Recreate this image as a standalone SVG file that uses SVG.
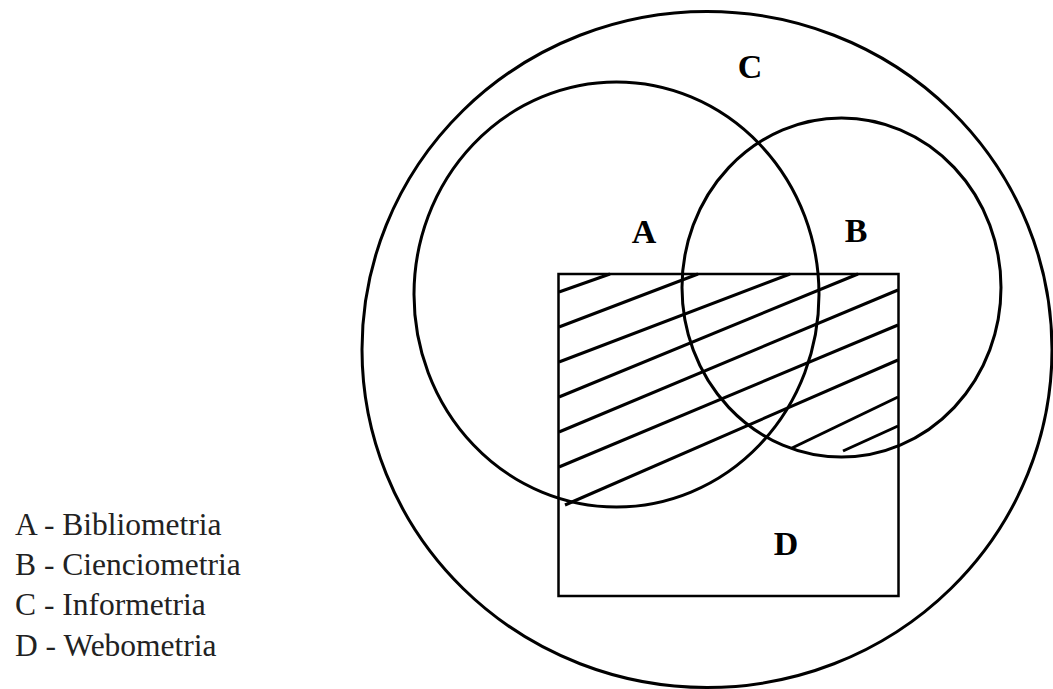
<svg xmlns="http://www.w3.org/2000/svg" width="1053" height="689" viewBox="0 0 1053 689">
<style>
.ring{fill:none;stroke:#000;stroke-width:3}
.box{fill:none;stroke:#000;stroke-width:2.5}
.hatch line{stroke:#000;stroke-width:3;stroke-linecap:butt}
.lbl{font-family:"Liberation Serif","Times New Roman",serif;font-weight:bold;font-size:34px;text-anchor:middle;fill:#000}
.leg{font-family:"Liberation Serif","Times New Roman",serif;font-size:31.5px;fill:#222}
</style>
<rect width="1053" height="689" fill="#fff"/>
<g id="C">
<ellipse class="ring" cx="707" cy="349.5" rx="345" ry="338"/>
<text class="lbl" x="750" y="78">C</text>
</g>
<g id="A">
<ellipse class="ring" cx="616.5" cy="294.5" rx="202.5" ry="212.5"/>
<text class="lbl" x="644" y="243">A</text>
</g>
<g id="B">
<ellipse class="ring" cx="841.5" cy="287.5" rx="159.5" ry="169.5"/>
<text class="lbl" x="856" y="242">B</text>
</g>
<g id="D">
<rect class="box" x="558.5" y="274" width="340" height="322"/>
<text class="lbl" x="786" y="555">D</text>
</g>
<g id="hatching" class="hatch">
<line x1="559" y1="292" x2="610" y2="274"/>
<line x1="559" y1="327" x2="698" y2="274"/>
<line x1="559" y1="362" x2="790" y2="274"/>
<line x1="559" y1="397" x2="858" y2="274"/>
<line x1="559" y1="432" x2="898" y2="290"/>
<line x1="559" y1="467" x2="898" y2="325"/>
<line x1="565" y1="505" x2="898" y2="360"/>
<line x1="792" y1="448" x2="898" y2="397"/>
<line x1="843" y1="451" x2="898" y2="426"/>
</g>
<g id="legend">
<text class="leg" x="15" y="535">A - Bibliometria</text>
<text class="leg" x="15" y="575">B - Cienciometria</text>
<text class="leg" x="15" y="615">C - Informetria</text>
<text class="leg" x="15" y="656">D - Webometria</text>
</g>
</svg>
